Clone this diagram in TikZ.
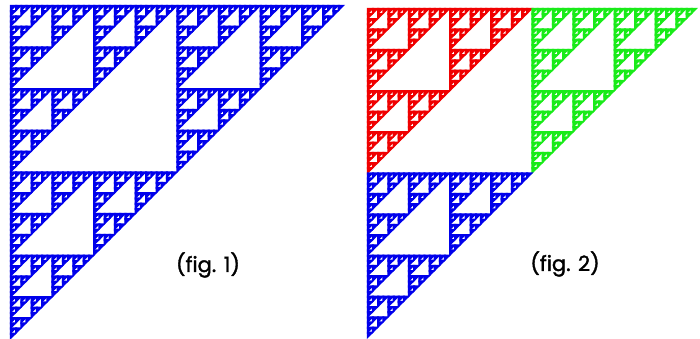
\documentclass[tikz,border=0pt]{standalone}
\usepackage{fontspec}
\newfontfamily\figfont[FakeBold=1.6]{Poppins}
\definecolor{sblue}{RGB}{0,0,235}
\definecolor{sred}{RGB}{240,0,0}
\definecolor{sgreen}{RGB}{25,235,25}
\newcommand\sier[4]{%
  \ifnum#4=0
    \filldraw[line width=1.3pt,line join=miter] (#1,#2) -- ++(#3,0) -- (#1,#2+#3) -- cycle;
  \else
    \begingroup
    \pgfmathsetmacro\sh{#3/2}%
    \pgfmathsetmacro\sxm{#1+\sh}%
    \pgfmathsetmacro\sym{#2+\sh}%
    \pgfmathtruncatemacro\sd{#4-1}%
    \edef\snext{\noexpand\sier{#1}{#2}{\sh}{\sd}\noexpand\sier{\sxm}{#2}{\sh}{\sd}\noexpand\sier{#1}{\sym}{\sh}{\sd}}%
    \expandafter\endgroup\snext
  \fi}
\begin{document}
\begin{tikzpicture}[x=1pt,y=-1pt,
  lbl/.style={font=\figfont\fontsize{21}{25}\selectfont,text=black}]
\useasboundingbox (0,0) rectangle (700,338);
\fill[white] (0,0) rectangle (700,338);
\begin{scope}[fill=sblue,draw=sblue]
  \sier{10.5}{5.5}{333}{6}
\end{scope}
\begin{scope}[fill=sred,draw=sred]
  \sier{367.5}{8.5}{164.5}{5}
\end{scope}
\begin{scope}[fill=sgreen,draw=sgreen]
  \sier{532}{8.5}{164.5}{5}
\end{scope}
\begin{scope}[fill=sblue,draw=sblue]
  \sier{367.5}{173}{164.5}{5}
\end{scope}
\node[lbl] (f1) at (208,265) {(fig. 1)};
\node[lbl] (f2) at (565,264) {(fig. 2)};
\end{tikzpicture}
\end{document}
